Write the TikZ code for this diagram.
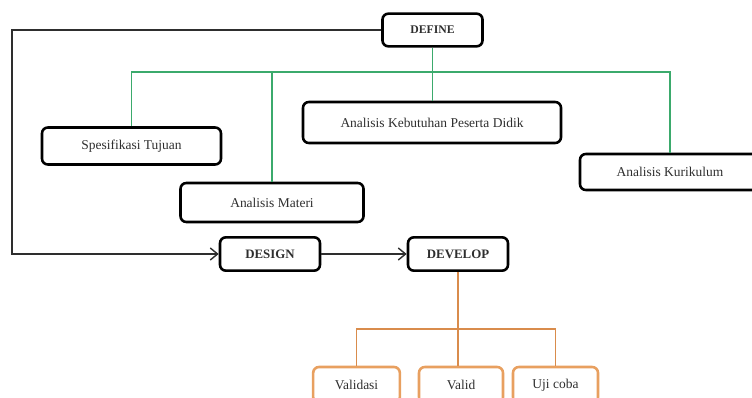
\documentclass[tikz,border=0pt]{standalone}
\usepackage{fontspec}
\setmainfont{Liberation Serif}
\usetikzlibrary{arrows.meta}
\definecolor{boxgreen}{HTML}{3BAA6C}
\definecolor{boxorange}{HTML}{E8A060}
\definecolor{lineorange}{HTML}{D98C4C}
\definecolor{ink}{HTML}{2E2E2E}
\begin{document}
\begin{tikzpicture}[x=0.03cm,y=-0.03cm,>={Straight Barb[length=2.2mm,width=3.6mm]},
    stage/.style={draw=black,line width=2.2pt,rounded corners=5pt,align=center,text=ink,font=\fontsize{11}{13}\selectfont\bfseries,minimum height=1.0cm},
    sub/.style={draw=black,line width=2.2pt,rounded corners=5pt,align=center,text=ink,font=\fontsize{11.5}{13}\selectfont},
    subdev/.style={sub,draw=boxorange,minimum height=1.08cm},
    flow/.style={draw=ink,line width=1.2pt},
    tree/.style={draw=boxgreen,line width=0.9pt},
    devtree/.style={draw=lineorange,line width=0.9pt}]
        \useasboundingbox (0,0) rectangle (752,398);
        % stages
        \node[stage,minimum width=3cm,minimum height=0.98cm,font=\fontsize{10}{12}\selectfont\bfseries] (define) at (432.5,30) {DEFINE};
        \node[stage,minimum width=3cm] (design) at (270,254) {DESIGN};
        \node[stage,minimum width=3cm] (develop) at (458,254) {DEVELOP};
        % define
        \node[sub,minimum width=5.37cm,minimum height=1.11cm] (spes) at (131.5,146) {Spesifikasi Tujuan};
        \node[sub,minimum width=5.49cm,minimum height=1.17cm] (materi) at (272,202.5) {Analisis Materi};
        \node[sub,minimum width=7.74cm,minimum height=1.23cm] (kebutuhan) at (432,122.5) {Analisis Kebutuhan Peserta Didik};
        \node[sub,minimum width=5.4cm,minimum height=1.08cm] (kurikulum) at (670,172) {Analisis Kurikulum};
        % develop
        \node[subdev,minimum width=2.6cm] (validasi) at (356.5,385) {Validasi};
        \node[subdev,minimum width=2.52cm] (valid) at (461,385) {Valid};
        \node[subdev,minimum width=2.55cm] (ujicoba) at (555.5,385) {Uji coba};
        \coordinate (gbus) at (432.5,72);
        \coordinate (obus) at (458,329);
        \coordinate (back) at (12,30);
        \draw[tree] (define) -- (gbus);
        \draw[tree] (spes.north) -- (spes.north |- gbus) -- (kurikulum.north |- gbus) -- (kurikulum.north);
        \draw[tree] (materi.north) -- (materi.north |- gbus);
        \draw[tree] (gbus) -- (gbus |- kebutuhan.north);
        \draw[devtree] (develop) -- (obus);
        \draw[devtree] (validasi.north) -- (validasi.north |- obus) -- (ujicoba.north |- obus) -- (ujicoba.north);
        \draw[devtree] (obus) -- (obus |- valid.north);
        \draw[flow,->] (define) -- (back) |- (design);
        \draw[flow,->] (design) -- (develop);
    \end{tikzpicture}
\end{document}
